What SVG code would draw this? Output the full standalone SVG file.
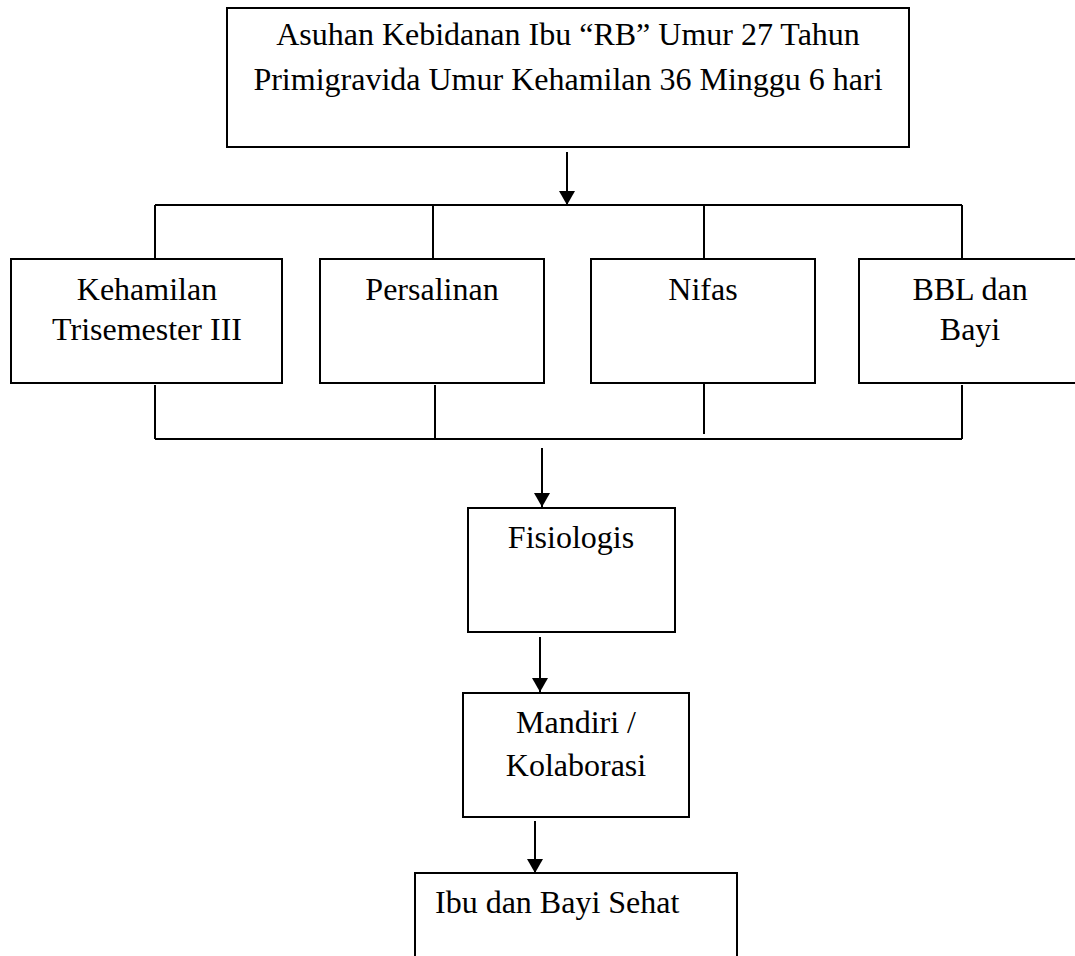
<svg xmlns="http://www.w3.org/2000/svg" width="1075" height="956" viewBox="0 0 1075 956">
  <style>
    .box { fill: #ffffff; stroke: #000000; stroke-width: 2; }
    .lbl { font-family: "Liberation Serif", "Times New Roman", serif; font-size: 32px; fill: #000000; }
    .mid { text-anchor: middle; }
    .ln { stroke: #000000; stroke-width: 2; fill: none; }
  </style>
  <defs>
    <marker id="arr" viewBox="0 0 14 16" markerWidth="14" markerHeight="16" refX="14" refY="8" orient="auto" markerUnits="userSpaceOnUse">
      <path d="M0,0 L14,8 L0,16 z" fill="#000000"/>
    </marker>
  </defs>
  <rect width="1075" height="956" fill="#ffffff"/>

  <g id="connectors">
    <line class="ln" x1="567" y1="152" x2="567" y2="205" marker-end="url(#arr)"/>
    <line class="ln" x1="155" y1="205" x2="962" y2="205"/>
    <line class="ln" x1="155" y1="205" x2="155" y2="259"/>
    <line class="ln" x1="433" y1="205" x2="433" y2="259"/>
    <line class="ln" x1="704" y1="205" x2="704" y2="259"/>
    <line class="ln" x1="962" y1="205" x2="962" y2="259"/>
    <line class="ln" x1="155" y1="385" x2="155" y2="439"/>
    <line class="ln" x1="435" y1="385" x2="435" y2="439"/>
    <line class="ln" x1="704" y1="383" x2="704" y2="434"/>
    <line class="ln" x1="962" y1="385" x2="962" y2="439"/>
    <line class="ln" x1="155" y1="439" x2="962" y2="439"/>
    <line class="ln" x1="542" y1="448" x2="542" y2="507" marker-end="url(#arr)"/>
    <line class="ln" x1="540" y1="637" x2="540" y2="692" marker-end="url(#arr)"/>
    <line class="ln" x1="535" y1="821" x2="535" y2="873" marker-end="url(#arr)"/>
  </g>

  <g id="node-asuhan">
    <rect class="box" x="227" y="8" width="682" height="139"/>
    <text class="lbl mid" x="568" y="45">Asuhan Kebidanan Ibu “RB” Umur 27 Tahun</text>
    <text class="lbl mid" x="568" y="90">Primigravida Umur Kehamilan 36 Minggu 6 hari</text>
  </g>

  <g id="node-kehamilan">
    <rect class="box" x="11" y="259" width="271" height="124"/>
    <text class="lbl mid" x="147" y="300">Kehamilan</text>
    <text class="lbl mid" x="147" y="340">Trisemester III</text>
  </g>

  <g id="node-persalinan">
    <rect class="box" x="320" y="259" width="224" height="124"/>
    <text class="lbl mid" x="432" y="300">Persalinan</text>
  </g>

  <g id="node-nifas">
    <rect class="box" x="591" y="259" width="224" height="124"/>
    <text class="lbl mid" x="703" y="300">Nifas</text>
  </g>

  <g id="node-bbl">
    <rect class="box" x="859" y="259" width="222" height="124"/>
    <text class="lbl mid" x="970" y="300">BBL dan</text>
    <text class="lbl mid" x="970" y="340">Bayi</text>
  </g>

  <g id="node-fisiologis">
    <rect class="box" x="468" y="508" width="207" height="124"/>
    <text class="lbl mid" x="571" y="548">Fisiologis</text>
  </g>

  <g id="node-mandiri">
    <rect class="box" x="463" y="693" width="226" height="124"/>
    <text class="lbl mid" x="576" y="733">Mandiri /</text>
    <text class="lbl mid" x="576" y="776">Kolaborasi</text>
  </g>

  <g id="node-ibu-bayi">
    <rect class="box" x="415" y="873" width="322" height="124"/>
    <text class="lbl" x="435" y="913">Ibu dan Bayi Sehat</text>
  </g>
</svg>
